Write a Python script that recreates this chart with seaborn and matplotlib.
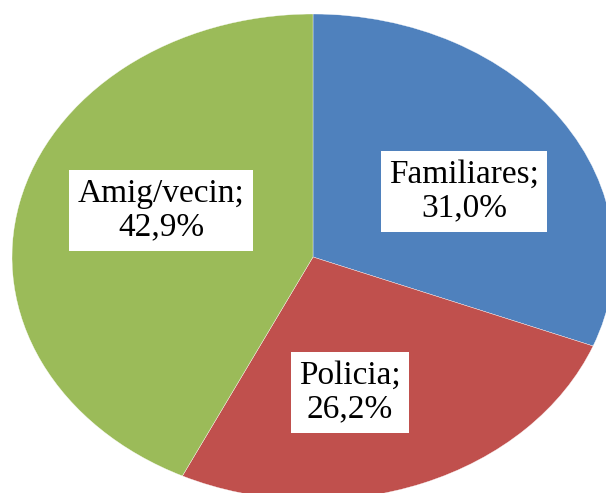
import matplotlib
matplotlib.use("Agg")
import matplotlib.pyplot as plt
import seaborn as sns
import numpy as np

# data
categories = ["Familiares", "Policia", "Amig/vecin"]
shares = [31.0, 26.2, 42.9]
colors = ["#4F81BD", "#C0504D", "#9BBB59"]

sns.set_theme(style="white")
plt.rcParams["font.family"] = ["Liberation Serif", "DejaVu Serif"]

labels = [f"{c};\n{v:.1f}%".replace(".", ",") for c, v in zip(categories, shares)]

fig = plt.figure(figsize=(6.06, 4.93), dpi=100)
# pie is stretched into an ellipse and runs off the right/bottom edges
ax = fig.add_axes([12 / 606, -7 / 493, 602 / 606, 486 / 493])

wedges, texts = ax.pie(
    shares,
    labels=labels,
    colors=colors,
    startangle=90,
    counterclock=False,
    labeldistance=0.57,
    wedgeprops=dict(linewidth=0.25, edgecolor="white"),
    textprops=dict(fontsize=24, color="black", ha="center", va="center",
                   linespacing=1.15),
)
# label placement like the original (slightly clockwise of the wedge middle)
label_shift = [-6, -9, -8]
label_radius = [0.57, 0.57, 0.54]
for w, t, d, r in zip(wedges, texts, label_shift, label_radius):
    ang = np.deg2rad((w.theta1 + w.theta2) / 2 + d)
    t.set_position((r * np.cos(ang), r * np.sin(ang)))
    t.set_horizontalalignment("center")
    t.set_bbox(dict(boxstyle="square,pad=0.25", fc="white", ec="none"))

ax.set_aspect("auto")
ax.set_xlim(-1, 1)
ax.set_ylim(-1, 1)
ax.axis("off")

fig.savefig("out.png", dpi=100)
